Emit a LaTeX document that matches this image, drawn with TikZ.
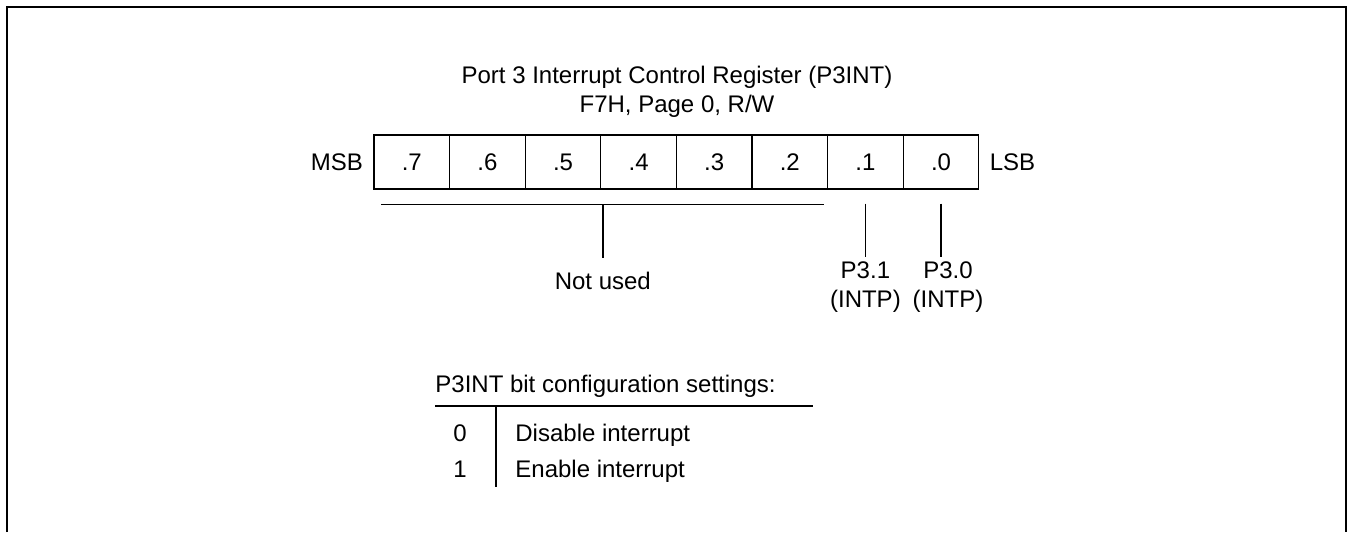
\documentclass[tikz,border=0pt]{standalone}
\usepackage{fontspec}
\setmainfont{Liberation Sans}
\usepackage{tikz}
\usetikzlibrary{positioning, calc}
\tikzset{
  bitcell/.style={draw, line width=0.65pt, minimum width=37.8pt, minimum height=27pt,
                  inner sep=0pt, font=\fontsize{12}{14.5}\selectfont},
  lbl/.style={inner sep=0pt, align=center, font=\fontsize{12}{14.5}\selectfont},
  rule/.style={line width=0.7pt}
}

\begin{document}
\begin{tikzpicture}[x=0.5pt, y=-0.5pt]
  \useasboundingbox (0,0) rectangle (1348,532);
  \draw[line width=1pt] (7,532) -- (7,7) -- (1346,7) -- (1346,532);

  % title
  \node[lbl, anchor=base] (title) at (677,83) {Port 3 Interrupt Control Register (P3INT)};
  \node[lbl, anchor=base] (addr) at (677,112) {F7H, Page 0, R/W};

  % register bits
  \foreach \i [count=\k from 0] in {7,...,0}
    \node[bitcell] (b\i) at ({411.8+75.6*\k},162) {.\i};
  \node[lbl, left=5pt of b7] (msb) {MSB};
  \node[lbl, right=5pt of b0] (lsb) {LSB};

  % not used bracket
  \coordinate (nu-l) at ($(b7.south west)+(8,15)$);
  \coordinate (nu-r) at ($(b2.south east)+(-4,15)$);
  \coordinate (nu-m) at ($(nu-l)!.5!(nu-r)$);
  \node[lbl, anchor=north] (notused) at ($(nu-m)+(0,67)$) {Not used};
  \draw[rule] (nu-l) -- (nu-r);
  \draw[rule] (nu-m) -- ($(notused.north)+(0,-14)$);

  % interrupt bits
  \node[lbl, anchor=north] (p31) at ($(b1.south)+(0,72)$) {P3.1\\(INTP)};
  \node[lbl, anchor=north] (p30) at ($(b0.south)+(7,72)$) {P3.0\\(INTP)};
  \draw[rule] ($(b1.south)+(0,14)$) -- ($(p31.north)+(0,-5)$);
  \draw[rule] ($(b0.south)+(0,14)$) -- ($(b0.south)+(0,67)$);

  % settings table
  \node[lbl, anchor=base west] (cfg) at (435,392) {P3INT bit configuration settings:};
  \coordinate (cfg-l) at (435,406);
  \coordinate (cfg-r) at (813,406);
  \coordinate (cfg-t) at (496,406);
  \coordinate (cfg-b) at (496,487);
  \draw[rule] (cfg-l) -- (cfg-r);
  \draw[rule] (cfg-t) -- (cfg-b);
  \node[lbl, anchor=base] (v0) at (460,441) {0};
  \node[lbl, anchor=base west] (d0) at (515,441) {Disable interrupt};
  \node[lbl, anchor=base] (v1) at (460,477) {1};
  \node[lbl, anchor=base west] (d1) at (515,477) {Enable interrupt};
\end{tikzpicture}
\end{document}
